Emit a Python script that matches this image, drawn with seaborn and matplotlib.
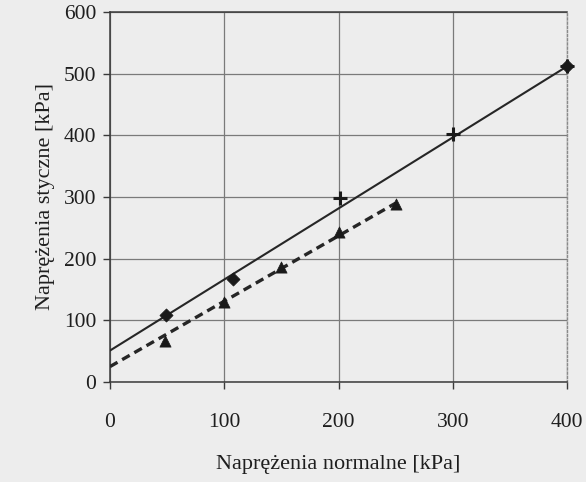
import numpy as np
import pandas as pd
import matplotlib
matplotlib.use("Agg")
import matplotlib.pyplot as plt
import seaborn as sns

# Shear box results: normal stress vs. shear stress [kPa]
sigma_a_diamond = [49, 108, 400]
tau_a_diamond = [109, 167, 512]
sigma_a_plus = [201, 300, 400]
tau_a_plus = [298, 402, 512]

sigma_b = [48, 100, 150, 200, 250]
tau_b = [67, 130, 187, 243, 288]

# Coulomb envelopes: tau = c + sigma * tan(phi)
cohesion = [51, 25]
tan_phi = [1.152, 1.06]
sigma_max = [400, 250]

x_ticks = [0, 100, 200, 300, 400]
y_ticks = [0, 100, 200, 300, 400, 500, 600]

sns.set_theme(style="whitegrid")
plt.rcParams["font.family"] = ["Liberation Serif", "DejaVu Serif"]

paper = "#ededed"
ink = "#262626"
text_col = "#1e1e1e"

W, H = 586, 482
left_px, right_px, top_px, bottom_px = 110, 567, 12, 382

fig = plt.figure(figsize=(W / 100, H / 100), dpi=100, facecolor=paper)
ax = fig.add_axes([left_px / W, 1 - bottom_px / H,
                   (right_px - left_px) / W, (bottom_px - top_px) / H])
ax.set_facecolor(paper)

env_a = pd.DataFrame({"sigma": [0, sigma_max[0]]})
env_a["tau"] = cohesion[0] + tan_phi[0] * env_a["sigma"]
env_b = pd.DataFrame({"sigma": [0, sigma_max[1]]})
env_b["tau"] = cohesion[1] + tan_phi[1] * env_b["sigma"]

sns.lineplot(data=env_a, x="sigma", y="tau", ax=ax, color=ink, lw=1.5,
             zorder=3)
sns.lineplot(data=env_b, x="sigma", y="tau", ax=ax, color=ink, lw=2.4,
             zorder=3)
ax.lines[-1].set_dashes([2.6, 1.6])

sns.scatterplot(x=sigma_a_diamond, y=tau_a_diamond, ax=ax, marker="D",
                s=45, color="#1a1a1a", edgecolor="#1a1a1a", linewidth=0.5,
                zorder=4, clip_on=False)
sns.scatterplot(x=sigma_a_plus, y=tau_a_plus, ax=ax, marker="+",
                s=100, color="#1a1a1a", linewidth=2.2, zorder=4,
                clip_on=False)
sns.scatterplot(x=sigma_b, y=tau_b, ax=ax, marker="^", s=65,
                color="#1a1a1a", edgecolor="#1a1a1a", linewidth=0.5,
                zorder=4)

ax.set_xlim(0, 400)
ax.set_ylim(0, 600)
ax.set_xticks(x_ticks)
ax.set_yticks(y_ticks)
ax.grid(True, color="#7a7a7a", lw=0.9)

for side in ["left", "bottom", "top"]:
    ax.spines[side].set_color("#3a3a3a")
    ax.spines[side].set_linewidth(1.1)
ax.spines["right"].set_color("#8a8a8a")
ax.spines["right"].set_linestyle((0, (1.5, 1.5)))
ax.spines["right"].set_linewidth(1.0)

ax.tick_params(axis="x", direction="out", length=5, width=1, color="#3a3a3a",
               pad=17, labelsize=15.5, labelcolor=text_col, bottom=True)
ax.tick_params(axis="y", direction="out", length=5, width=1, color="#3a3a3a",
               pad=5, labelsize=15.5, labelcolor=text_col, left=True)

ax.set_xlabel("Naprężenia normalne [kPa]", fontsize=16, color=text_col,
              labelpad=17)
ax.set_ylabel("Naprężenia styczne [kPa]", fontsize=16, color=text_col,
              labelpad=6)

fig.savefig("out.png", dpi=100, facecolor=paper)
